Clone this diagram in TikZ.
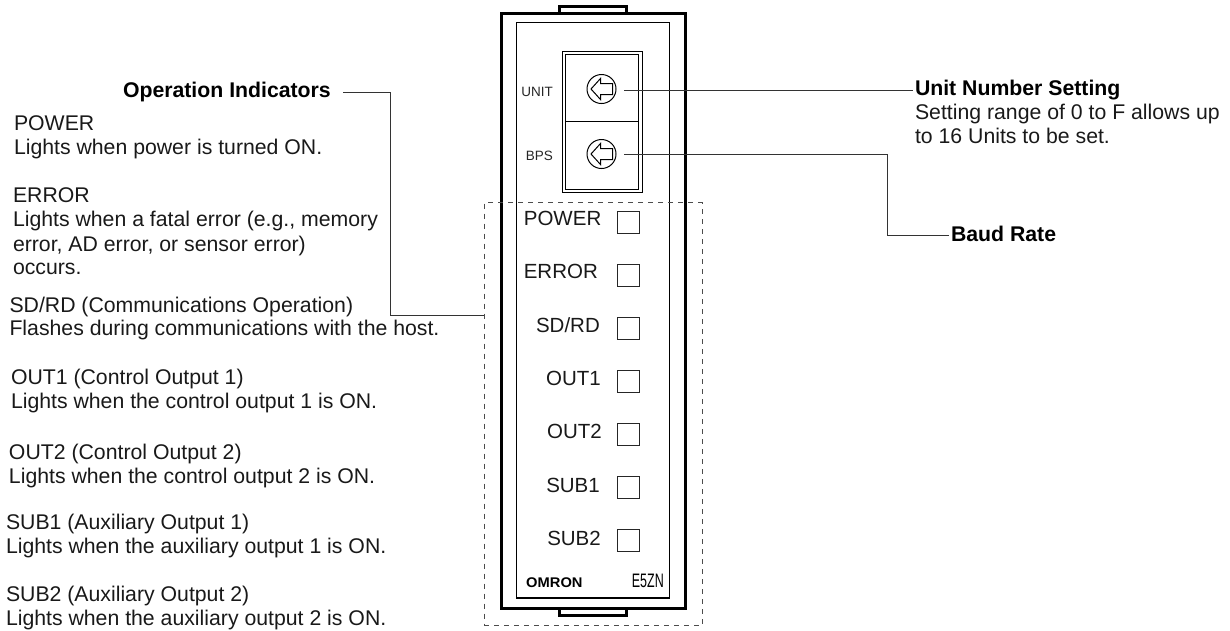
\documentclass[tikz,border=0pt]{standalone}
\usepackage{fontspec}
\usepackage{graphicx}
\setmainfont{Liberation Sans}
\tikzset{
 x=1pt,y=-1pt,
 txt/.style={anchor=base west,inner sep=0pt,outer sep=0pt,font=\fontsize{21.25}{24}\selectfont,align=left,text=black!90},
 hd/.style={txt,font=\fontsize{21.25}{24}\selectfont\bfseries,text=black},
 led/.style={draw=black!85,line width=1pt,minimum size=22pt,inner sep=0pt,outer sep=0pt,anchor=north west},
 ledl/.style={anchor=base east,inner sep=0pt,font=\fontsize{20.5}{24}\selectfont,text=black!90},
 small/.style={anchor=base east,inner sep=0pt,font=\fontsize{13.5}{15}\selectfont,text=black!85},
 leader/.style={line width=0.8pt,black!80},
 dial/.style={circle,draw,line width=1pt,minimum size=29pt,inner sep=0pt,outer sep=0pt},
}
\begin{document}
\begin{tikzpicture}
\useasboundingbox (0,0) rectangle (1230,630);
% case
\draw[line width=3pt] (559,13) -- (559,6) -- (626.5,6) -- (626.5,13);
\draw[line width=3pt] (559,608) -- (559,615) -- (626.5,615) -- (626.5,608);
\draw[line width=3pt] (501,13) rectangle (685.5,608);
\draw[line width=1.2pt] (516.5,22.5) rectangle (669.5,598);
\draw[line width=0.9pt] (562,51.5) rectangle (642,192);
\draw[line width=0.9pt] (565,54.5) rectangle (638.5,189);
\draw[line width=1pt] (565,121.5) -- (638.5,121.5);
% dials
\node[dial] (d1) at (601.5,89) {};
\node[dial] (d2) at (601.5,154) {};
\foreach \n in {d1,d2}{
 \draw[line width=1pt] ([shift={(-10.5,0)}]\n.center) -- ++(9.5,-10.5) -- ++(0,5) -- ++(12,0) -- ++(0,11) -- ++(-12,0) -- ++(0,5) -- cycle;
}
\node[small] (unit) at (553,96) {UNIT};
\node[small] (bps) at (553,160) {BPS};
% indicators
\node[ledl] (lp) at (601.5,225) {POWER};
\node[led] (l1) at (617,211.5) {};
\node[ledl] (le) at (598,278) {ERROR};
\node[led] (l2) at (617,264.5) {};
\node[ledl] (ls) at (600,332) {SD/RD};
\node[led] (l3) at (617,317.5) {};
\node[ledl] (lo1) at (601,385) {OUT1};
\node[led] (l4) at (617,370.5) {};
\node[ledl] (lo2) at (602,438) {OUT2};
\node[led] (l5) at (617,423.5) {};
\node[ledl] (ls1) at (600,492) {SUB1};
\node[led] (l6) at (617,476.5) {};
\node[ledl] (ls2) at (601,545) {SUB2};
\node[led] (l7) at (617,529.5) {};
\node[anchor=base west,inner sep=0pt,font=\fontsize{14}{16}\selectfont\bfseries] (om) at (526,587) {\scalebox{1.05}[1]{OMRON}};
\node[anchor=base east,inner sep=0pt,font=\fontsize{19.5}{22}\selectfont] (ez) at (664,587) {\scalebox{0.64}[1]{E5ZN}};
% dashed frame
\node[draw=black!70,line width=0.6pt,inner sep=0pt,outer sep=0pt,minimum width=218pt,minimum height=423pt,anchor=north west,dash pattern=on 5pt off 5pt] (fr) at (484,202.5) {};
% left texts
\node[hd] (op) at (123,97) {Operation Indicators};
\node[txt] (t1) at (14,130) {POWER};
\node[txt] (t1b) at (14,154) {Lights when power is turned ON.};
\node[txt] (t2) at (13,202) {ERROR};
\node[txt] (t2b) at (13,226) {Lights when a fatal error (e.g., memory};
\node[txt] (t2c) at (13,251) {error, AD error, or sensor error)};
\node[txt] (t2d) at (13,274) {occurs.};
\node[txt] (t3) at (9.5,312.5) {SD/RD (Communications Operation)};
\node[txt] (t3b) at (9.5,335) {Flashes during communications with the host.};
\node[txt] (t4) at (11,384) {OUT1 (Control Output 1)};
\node[txt] (t4b) at (11,408) {Lights when the control output 1 is ON.};
\node[txt] (t5) at (9,459) {OUT2 (Control Output 2)};
\node[txt] (t5b) at (9,483) {Lights when the control output 2 is ON.};
\node[txt] (t6) at (6,529) {SUB1 (Auxiliary Output 1)};
\node[txt] (t6b) at (6,553) {Lights when the auxiliary output 1 is ON.};
\node[txt] (t7) at (6,601.5) {SUB2 (Auxiliary Output 2)};
\node[txt] (t7b) at (6,625) {Lights when the auxiliary output 2 is ON.};
% right texts
\node[hd] (un) at (915,95) {Unit Number Setting};
\node[txt] (unb) at (915,119) {Setting range of 0 to F allows up};
\node[txt] (unc) at (915,143) {to 16 Units to be set.};
\node[hd] (br) at (951,241) {Baud Rate};
% leaders
\coordinate (a0) at (343,92);
\coordinate (a1) at (390,92);
\coordinate (a2) at (390,315.5);
\coordinate (a3) at (484,315.5);
\draw[leader] (a0) -- (a1) -- (a2) -- (a3);
\coordinate (b1) at (624,90);
\coordinate (b2) at (913,90);
\draw[leader] (b1) -- (b2);
\coordinate (c1) at (624,154.5);
\coordinate (c2) at (887.5,154.5);
\coordinate (c3) at (887.5,235);
\coordinate (c4) at (949,235);
\draw[leader] (c1) -- (c2) -- (c3) -- (c4);
\end{tikzpicture}
\end{document}
